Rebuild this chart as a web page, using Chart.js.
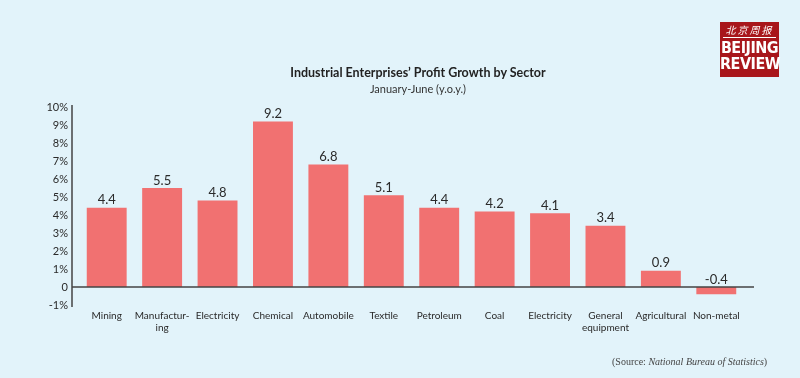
<!DOCTYPE html>
<html>
<head>
<meta charset="utf-8">
<script src="https://cdn.jsdelivr.net/npm/chart.js@4.4.0/dist/chart.umd.min.js"></script>
<style>
  html, body { margin: 0; padding: 0; background: #e2f3fa; }
  #wrap { position: relative; width: 800px; height: 378px; overflow: hidden; font-family: Lato, "Open Sans", sans-serif; }
  #sectorChart { position: absolute; left: 0; top: 0; }
  .title { position: absolute; left: 218px; width: 400px; text-align: center; color: #222; }
  #t1 { top: 65px; font-size: 12.5px; font-weight: bold; }
  #t2 { top: 82px; font-size: 11px; color: #333; }
  #source { position: absolute; left: 612px; top: 356px; font-family: "Liberation Serif", serif; font-size: 10px; color: #444; }
  #logo { position: absolute; left: 720px; top: 22px; width: 59px; height: 55px; background: #a8161b; color: #fff; text-align: center; }
  #logo .cn { font-family: "Noto Sans CJK SC", sans-serif; font-size: 10px; font-style: italic; line-height: 12px; margin-top: 2px; letter-spacing: 2px; }
  #logo .bar { height: 1px; background: #fff; margin: 1px 3px 2px 3px; }
  #logo .en { font-family: "Liberation Sans Narrow", "DejaVu Sans Condensed", sans-serif; font-weight: bold; font-size: 16px; line-height: 16px; letter-spacing: -0.5px; }
</style>
</head>
<body>
<div id="wrap">
  <canvas id="sectorChart" width="800" height="378"></canvas>
  <div class="title" id="t1">Industrial Enterprises’ Profit Growth by Sector</div>
  <div class="title" id="t2">January-June (y.o.y.)</div>
  <div id="source">(Source: <i>National Bureau of Statistics</i>)</div>
  <div id="logo">
    <div class="cn">北京周报</div>
    <div class="bar"></div>
    <div class="en">BEIJING</div>
    <div class="en">REVIEW</div>
  </div>
</div>
<script>
var sectors = ['Mining', ['Manufactur-', 'ing'], 'Electricity', 'Chemical', 'Automobile', 'Textile', 'Petroleum', 'Coal', 'Electricity', ['General', 'equipment'], 'Agricultural', 'Non-metal'];
var growth = [4.4, 5.5, 4.8, 9.2, 6.8, 5.1, 4.4, 4.2, 4.1, 3.4, 0.9, -0.4];
var yTicks = [-1, 0, 1, 2, 3, 4, 5, 6, 7, 8, 9, 10];

var barColor = '#f17171';
var textColor = '#2a2a2a';

// axis lines + value labels
const extras = {
    id: 'extras',
    afterDatasetsDraw(chart) {
        const ctx = chart.ctx;
        const area = chart.chartArea;
        const y = chart.scales.y;
        const zero = y.getPixelForValue(0);
        ctx.save();
        ctx.strokeStyle = '#444';
        ctx.lineWidth = 1.5;
        ctx.beginPath();
        ctx.moveTo(area.left - 7, area.top - 2);
        ctx.lineTo(area.left - 7, area.bottom + 2);
        ctx.moveTo(area.left - 7, zero);
        ctx.lineTo(area.right + 10, zero);
        ctx.stroke();

        ctx.fillStyle = textColor;
        ctx.font = '13px Lato, sans-serif';
        ctx.textAlign = 'center';
        ctx.textBaseline = 'bottom';
        chart.getDatasetMeta(0).data.forEach(function(bar, i) {
            var top = Math.min(bar.y, zero);
            ctx.fillText(String(growth[i]), bar.x, top - 1);
        });
        ctx.restore();
    }
};

const config = {
    type: 'bar',
    data: {
        labels: sectors,
        datasets: [{
            label: 'Profit growth',
            data: growth,
            backgroundColor: barColor,
            borderWidth: 0,
            barPercentage: 0.72,
            categoryPercentage: 1
        }]
    },
    options: {
        responsive: false,
        animation: false,
        layout: { padding: { top: 107, right: 56, left: 0, bottom: 0 } },
        plugins: {
            legend: { display: false },
            title: { display: false },
            tooltip: { enabled: false }
        },
        scales: {
            x: {
                grid: { display: false, drawTicks: false },
                border: { display: false },
                ticks: { color: textColor, font: { family: 'Lato', size: 10 }, padding: 5, maxRotation: 0, autoSkip: false },
                afterFit: function(scale) { scale.height = 73; }
            },
            y: {
                min: -1,
                max: 10,
                grid: { display: false, drawTicks: false },
                border: { display: false },
                afterBuildTicks: function(scale) { scale.ticks = yTicks.map(function(v) { return { value: v }; }); },
                ticks: {
                    color: textColor,
                    font: { family: 'Lato', size: 11 },
                    padding: 11,
                    callback: function(v) { return v === 0 ? '0' : v + '%'; }
                },
                afterFit: function(scale) { scale.width = 79; }
            }
        }
    },
    plugins: [extras]
};

var chart = new Chart('sectorChart', config);
</script>
</body>
</html>
